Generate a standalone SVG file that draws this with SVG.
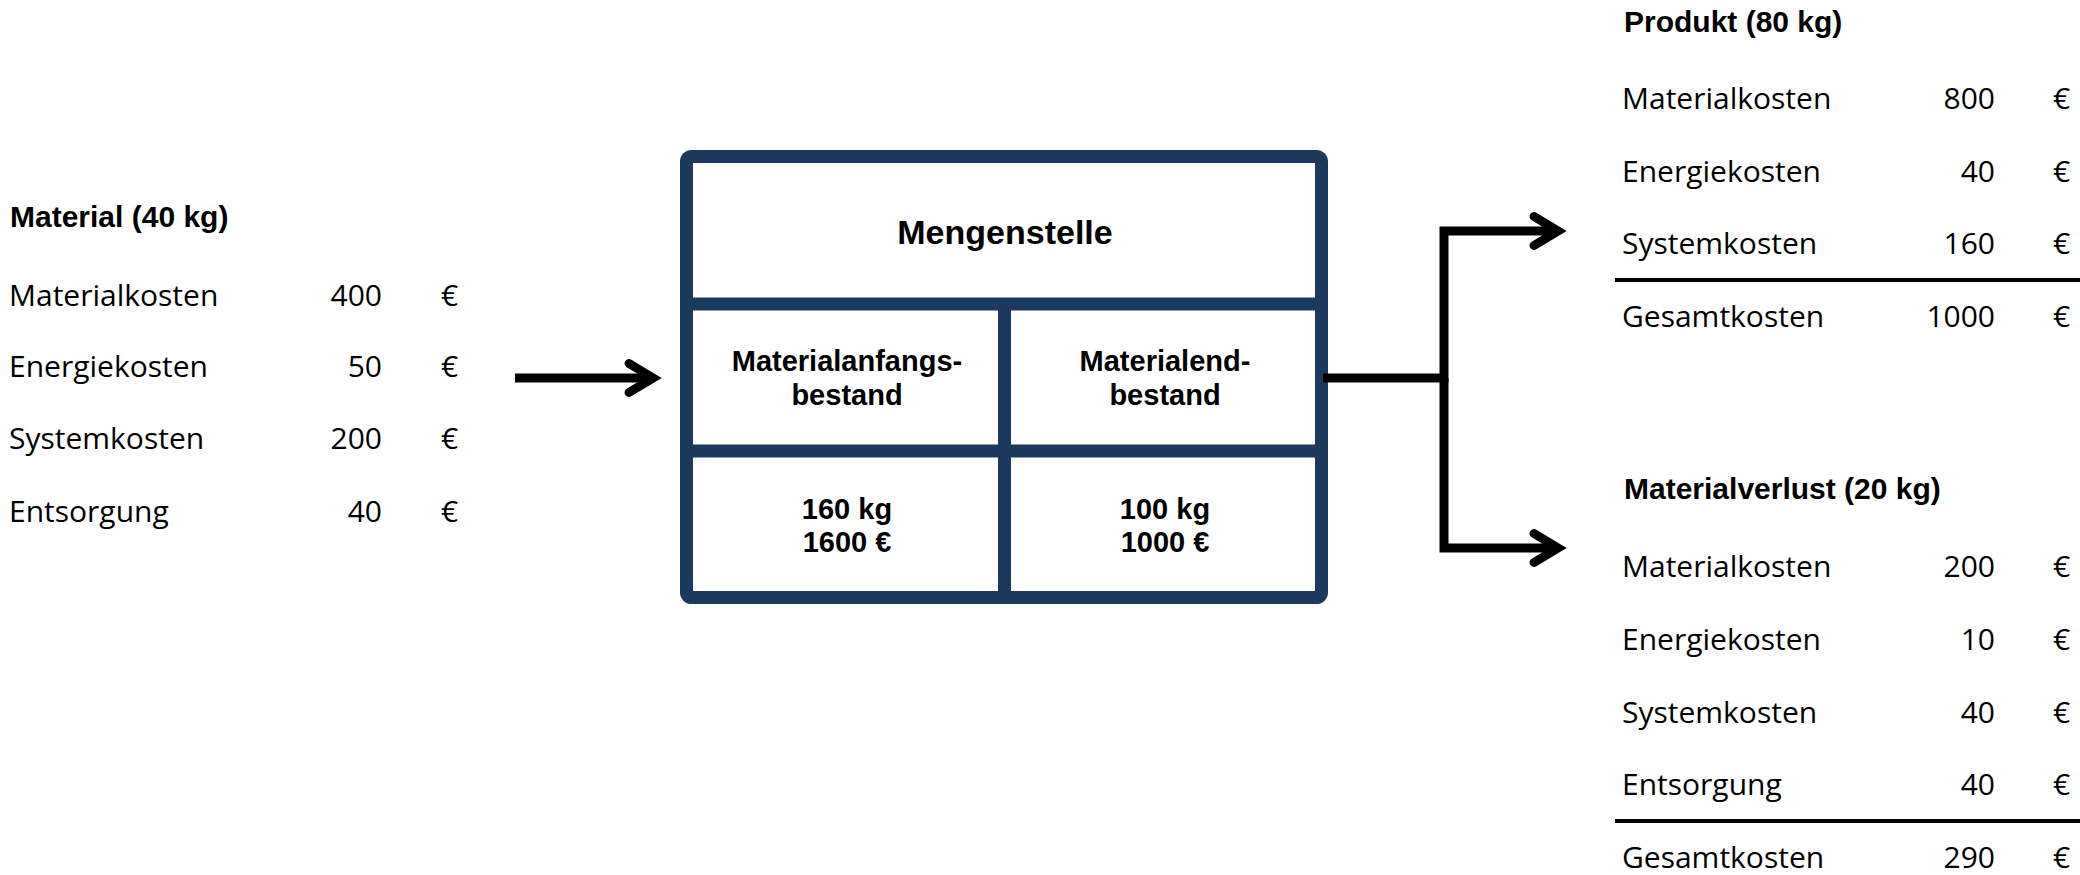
<svg xmlns="http://www.w3.org/2000/svg" width="2080" height="875" viewBox="0 0 2080 875">
  <style>
    .hd { font-family: "Liberation Sans", Arial, sans-serif; font-weight: bold; font-size: 30px; fill: #000; }
    .lb { font-family: "Open Sans", "Noto Sans", sans-serif; font-size: 30px; fill: #000; }
    .num { font-family: "Open Sans", "Noto Sans", sans-serif; font-size: 30px; fill: #000; text-anchor: end; }
    .bx { font-family: "Liberation Sans", Arial, sans-serif; font-weight: bold; font-size: 29px; fill: #000; text-anchor: middle; }
    .bxt { font-family: "Liberation Sans", Arial, sans-serif; font-weight: bold; font-size: 34px; fill: #000; text-anchor: middle; }
    .frame { fill: #fff; stroke: #1c3a5f; stroke-width: 13; }
    .div { stroke: #1c3a5f; stroke-width: 13; }
    .conn { fill: none; stroke: #000; stroke-width: 9; stroke-linejoin: miter; }
    .rule { stroke: #000; stroke-width: 4; }
  </style>
  <defs>
    <marker id="chev" markerUnits="userSpaceOnUse" viewBox="-40 -25 60 50" markerWidth="60" markerHeight="50" refX="0" refY="0" orient="auto" overflow="visible">
      <path d="M-24,-14.5 L0,0 L-24,14.5" fill="none" stroke="#000" stroke-width="9" stroke-linecap="round" stroke-linejoin="miter"/>
    </marker>
  </defs>

  <g id="material-input">
    <text class="hd" x="10" y="227">Material (40 kg)</text>
    <text class="lb" x="9" y="306">Materialkosten</text>
    <text class="num" x="382" y="306">400</text>
    <text class="lb" x="441" y="306">€</text>
    <text class="lb" x="9" y="377">Energiekosten</text>
    <text class="num" x="382" y="377">50</text>
    <text class="lb" x="441" y="377">€</text>
    <text class="lb" x="9" y="449">Systemkosten</text>
    <text class="num" x="382" y="449">200</text>
    <text class="lb" x="441" y="449">€</text>
    <text class="lb" x="9" y="522">Entsorgung</text>
    <text class="num" x="382" y="522">40</text>
    <text class="lb" x="441" y="522">€</text>
  </g>

  <g id="mengenstelle">
    <rect class="frame" x="686.5" y="156.5" width="635" height="441" rx="5"/>
    <line class="div" x1="686" y1="304" x2="1322" y2="304"/>
    <line class="div" x1="686" y1="451" x2="1322" y2="451"/>
    <line class="div" x1="1004.5" y1="304" x2="1004.5" y2="598"/>
    <text class="bxt" x="1005" y="244">Mengenstelle</text>
    <text class="bx" x="847" y="371">Materialanfangs-</text>
    <text class="bx" x="847" y="405">bestand</text>
    <text class="bx" x="1165" y="371">Materialend-</text>
    <text class="bx" x="1165" y="405">bestand</text>
    <text class="bx" x="847" y="519">160 kg</text>
    <text class="bx" x="847" y="552">1600 €</text>
    <text class="bx" x="1165" y="519">100 kg</text>
    <text class="bx" x="1165" y="552">1000 €</text>
  </g>

  <g id="produkt">
    <text class="hd" x="1624" y="32">Produkt (80 kg)</text>
    <text class="lb" x="1622" y="109">Materialkosten</text>
    <text class="num" x="1995" y="109">800</text>
    <text class="lb" x="2053" y="109">€</text>
    <text class="lb" x="1622" y="182">Energiekosten</text>
    <text class="num" x="1995" y="182">40</text>
    <text class="lb" x="2053" y="182">€</text>
    <text class="lb" x="1622" y="254">Systemkosten</text>
    <text class="num" x="1995" y="254">160</text>
    <text class="lb" x="2053" y="254">€</text>
    <line class="rule" x1="1615" y1="280" x2="2080" y2="280"/>
    <text class="lb" x="1622" y="327">Gesamtkosten</text>
    <text class="num" x="1995" y="327">1000</text>
    <text class="lb" x="2053" y="327">€</text>
  </g>

  <g id="materialverlust">
    <text class="hd" x="1624" y="499">Materialverlust (20 kg)</text>
    <text class="lb" x="1622" y="577">Materialkosten</text>
    <text class="num" x="1995" y="577">200</text>
    <text class="lb" x="2053" y="577">€</text>
    <text class="lb" x="1622" y="650">Energiekosten</text>
    <text class="num" x="1995" y="650">10</text>
    <text class="lb" x="2053" y="650">€</text>
    <text class="lb" x="1622" y="723">Systemkosten</text>
    <text class="num" x="1995" y="723">40</text>
    <text class="lb" x="2053" y="723">€</text>
    <text class="lb" x="1622" y="795">Entsorgung</text>
    <text class="num" x="1995" y="795">40</text>
    <text class="lb" x="2053" y="795">€</text>
    <line class="rule" x1="1615" y1="821" x2="2080" y2="821"/>
    <text class="lb" x="1622" y="868">Gesamtkosten</text>
    <text class="num" x="1995" y="868">290</text>
    <text class="lb" x="2053" y="868">€</text>
  </g>

  <g id="connectors">
    <path class="conn" d="M515,378 H653" marker-end="url(#chev)"/>
    <path class="conn" d="M1323,378 H1444 V231 H1558" marker-end="url(#chev)"/>
    <path class="conn" d="M1444,378 V548 H1558" marker-end="url(#chev)"/>
  </g>
</svg>
